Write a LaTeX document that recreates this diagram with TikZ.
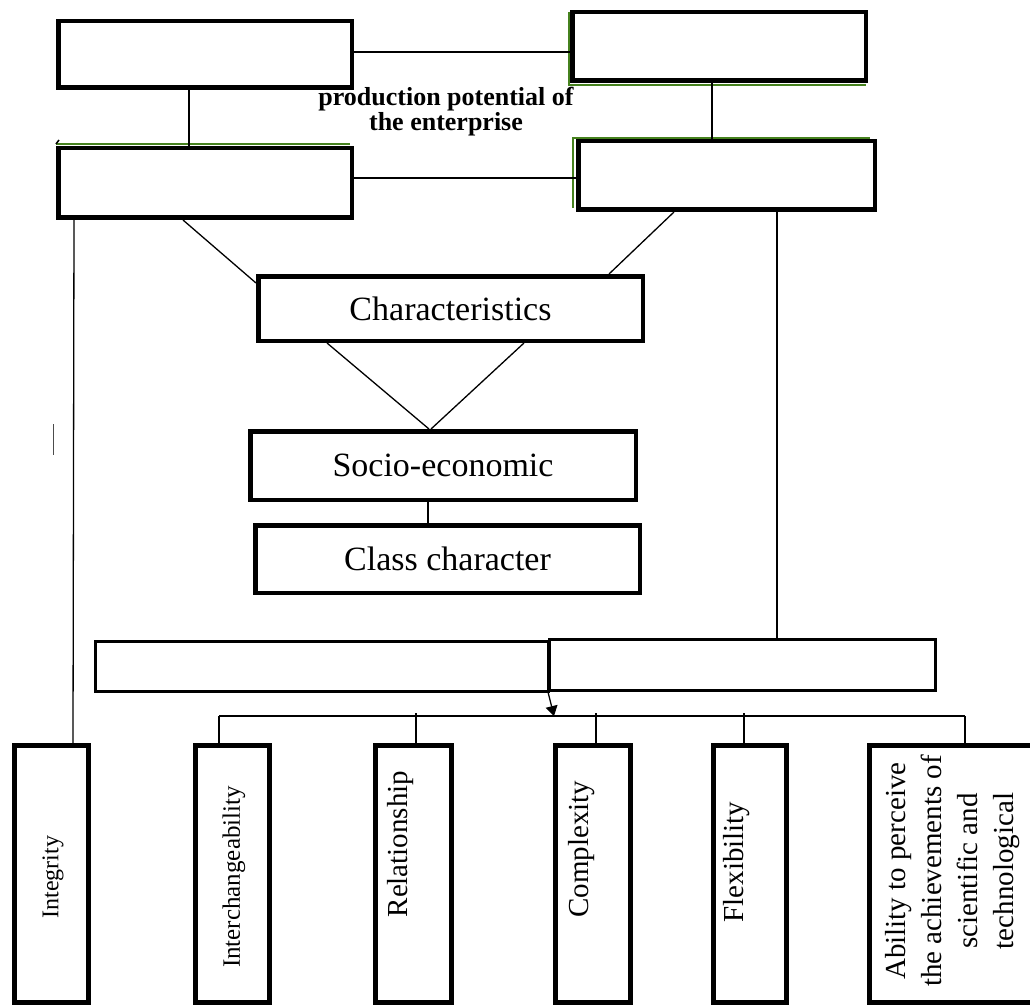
\documentclass[tikz,border=0pt]{standalone}
\usepackage{fontspec}
\setmainfont{Liberation Serif}
\usetikzlibrary{arrows.meta}
\definecolor{edgegreen}{RGB}{70,130,30}
\begin{document}
\begin{tikzpicture}[x=1pt,y=-1pt,
  box/.style={draw, line width=4.5pt, inner sep=0pt, font=\fontsize{34}{40}\selectfont},
  widebox/.style={draw, line width=3pt, inner sep=0pt},
  vbox/.style={draw, line width=5pt, inner sep=0pt, minimum height=257pt},
  vtext/.style={rotate=90, inner sep=0pt, align=center},
  conn/.style={line width=1.3pt},
  greenedge/.style={edgegreen, line width=1.2pt}]
\useasboundingbox (0,0) rectangle (1030,1008);

% top boxes
\node[box, minimum width=293.5pt, minimum height=66.5pt] (TL) at (205,54.5) {};
\node[box, minimum width=293.5pt, minimum height=68.5pt] (TR) at (719,46.5) {};
\node[box, minimum width=293.5pt, minimum height=69.5pt] (ML) at (205,183) {};
\node[box, minimum width=296.5pt, minimum height=68.5pt] (MR) at (726.5,175.5) {};

% green artefact edges
\draw[greenedge] (569,12) -- (569,85) -- (866,85);
\draw[greenedge] (56,144) -- (350,144);
\draw[greenedge] (573,208) -- (573,138) -- (870,138);
\coordinate (tickA) at (56,144);
\coordinate (tickB) at (59,140);
\draw[line width=1.5pt] (tickA) -- (tickB);

\node[font=\bfseries\fontsize{26}{25}\selectfont, align=center, inner sep=0pt] (prod) at (446,111.5) {production potential of\\the enterprise};

% middle column
\node[box, minimum width=384.5pt, minimum height=64.5pt] (Char) at (450.5,308.5) {Characteristics};
\node[box, minimum width=385.5pt, minimum height=68.5pt] (Socio) at (443,465.5) {Socio-economic};
\node[box, minimum width=384.5pt, minimum height=67.5pt] (Class) at (447.5,559) {Class character};

% long boxes
\node[widebox, minimum width=453pt, minimum height=50pt] (LL) at (322,666.5) {};
\node[widebox, minimum width=386pt, minimum height=51pt] (LR) at (742.5,665) {};

% bottom boxes
\node[vbox, minimum width=74pt] (Int) at (51.5,874) {};
\node[vbox, minimum width=74pt] (Inter) at (232.5,874) {};
\node[vbox, minimum width=76pt] (Rel) at (413.5,874) {};
\node[vbox, minimum width=75pt] (Comp) at (593,874) {};
\node[vbox, minimum width=73pt] (Flex) at (750,874) {};
\node[vbox, minimum width=168pt] (Abil) at (953.5,874) {};

\node[vtext, font=\fontsize{24}{28}\selectfont] (tInt) at (53,877) {Integrity};
\node[vtext, font=\fontsize{25}{28}\selectfont] (tInter) at (234,877) {Interchangeability};
\node[vtext, font=\fontsize{29}{32}\selectfont] (tRel) at (401,844) {Relationship};
\node[vtext, font=\fontsize{29}{32}\selectfont] (tComp) at (582,849) {Complexity};
\node[vtext, font=\fontsize{29}{32}\selectfont] (tFlex) at (737,862) {Flexibility};
\node[vtext, font=\fontsize{29}{36}\selectfont] (tAbil) at (953,871) {Ability to perceive\\the achievements of\\scientific and\\technological};

% connectors, top
\draw[conn] (TL.east |- 0,52) -- (TR.west |- 0,52);
\draw[conn] (TL.south -| 189,0) -- (ML.north -| 189,0);
\draw[conn] (TR.south -| 712,0) -- (MR.north -| 712,0);
\draw[conn] (ML.east |- 0,178) -- (MR.west |- 0,178);
\draw[conn] (ML.south -| 183,0) -- (Char.west |- 0,283);
\draw[conn] (MR.south -| 674,0) -- (Char.north -| 609,0);
\draw[conn] (Char.south -| 327,0) -- (Socio.north -| 429,0);
\draw[conn] (Char.south -| 524,0) -- (Socio.north -| 431,0);
\draw[line width=2pt] (Socio.south -| 428,0) -- (Class.north -| 428,0);

% long vertical lines
\draw[conn] (ML.south -| 74,0) -- (Int.north -| 73,0);
\draw[conn] (MR.south -| 777,0) -- (LR.north -| 777,0);

% stray mark
\coordinate (markA) at (53,424);
\coordinate (markB) at (53,455);
\draw[line width=1pt, black!70] (markA) -- (markB);

% bus
\coordinate (busL) at (219,716);
\coordinate (busR) at (965,716);
\coordinate (busA) at (554,716);
\draw[conn, -{Triangle[length=10pt,width=12pt]}] (LR.south west) -- (busA);
\draw[conn] (busL) -- (busR);
\draw[conn] (busL) -- (Inter.north -| busL);
\draw[conn] (Rel.north -| 416,0) -- (416,713);
\draw[conn] (Comp.north -| 596,0) -- (596,713);
\draw[conn] (Flex.north -| 744,0) -- (744,713);
\draw[conn] (Abil.north -| busR) -- (busR);
\end{tikzpicture}
\end{document}
